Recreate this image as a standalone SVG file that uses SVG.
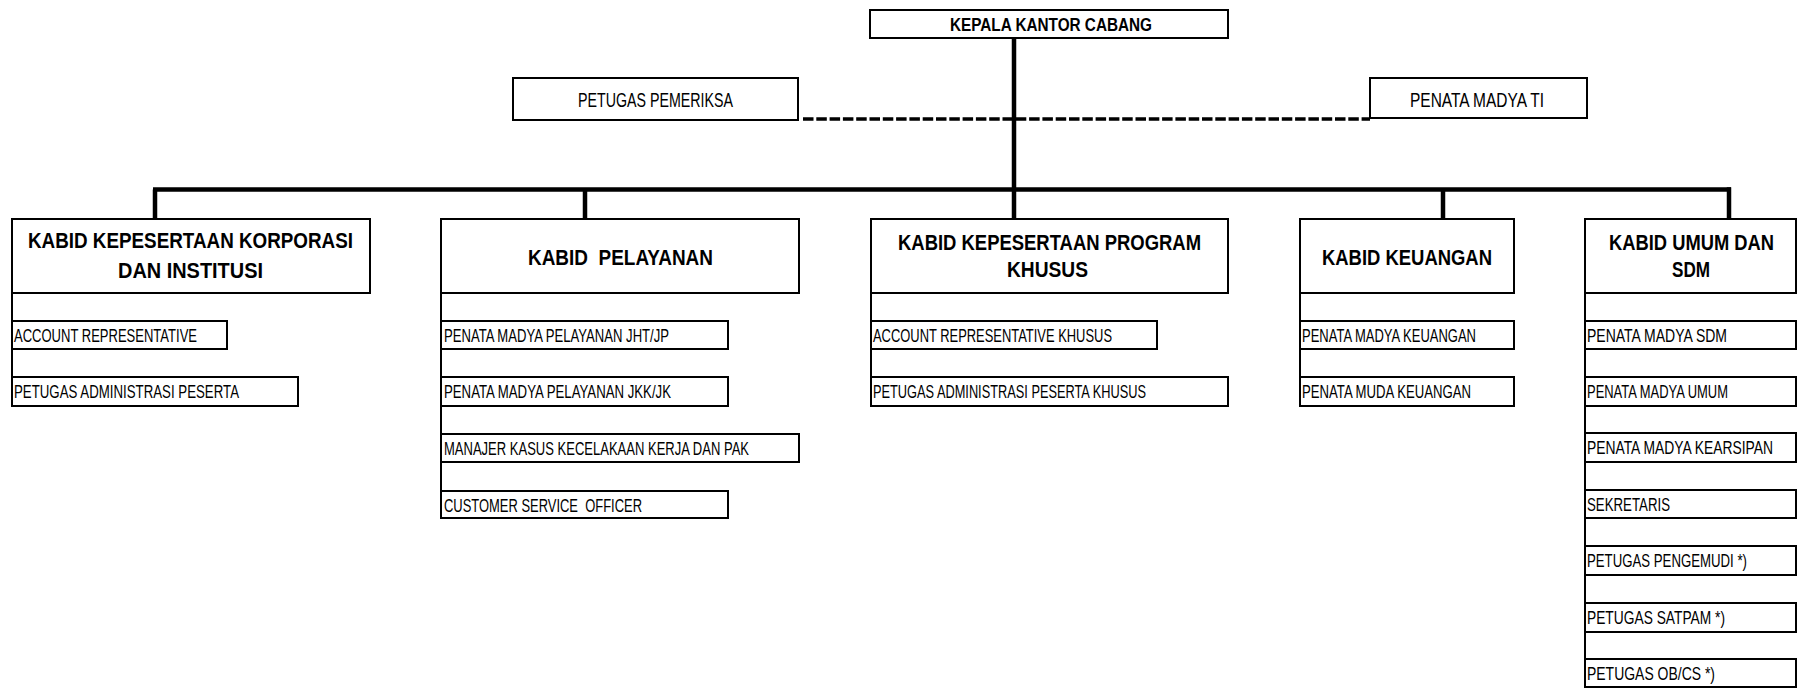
<svg xmlns="http://www.w3.org/2000/svg" width="1797" height="689" viewBox="0 0 1797 689">
<style>
.box{fill:#fff;stroke:#000;stroke-width:2}
.t{font-family:"Liberation Sans",Arial,sans-serif;font-size:18.5px;fill:#000;white-space:pre}
.h{font-family:"Liberation Sans",Arial,sans-serif;font-size:22px;font-weight:bold;fill:#000;white-space:pre}
.top{font-family:"Liberation Sans",Arial,sans-serif;font-size:19px;font-weight:bold;fill:#000}
.mid{font-family:"Liberation Sans",Arial,sans-serif;font-size:21px;fill:#000}
.ln{stroke:#000;stroke-width:4.5;fill:none}
.dash{stroke:#000;stroke-width:3.5;fill:none;stroke-dasharray:10.5 2.8}
.side{stroke:#000;stroke-width:2;fill:none}
</style>
<rect width="1797" height="689" fill="#fff"/>
<g id="connectors">
<line class="dash" x1="803" y1="119" x2="1370" y2="119"/>
<line class="ln" x1="1014" y1="38" x2="1014" y2="219"/>
<line class="ln" x1="153" y1="189.5" x2="1731" y2="189.5"/>
<line class="ln" x1="155" y1="189.5" x2="155" y2="219"/>
<line class="ln" x1="585" y1="189.5" x2="585" y2="219"/>
<line class="ln" x1="1443" y1="189.5" x2="1443" y2="219"/>
<line class="ln" x1="1729" y1="187.3" x2="1729" y2="219"/>
</g>
<g id="kepala">
<rect class="box" x="870" y="10" width="358" height="28"/>
<text class="top" x="950" y="31" textLength="202" lengthAdjust="spacingAndGlyphs">KEPALA KANTOR CABANG</text>
</g>
<g id="pemeriksa">
<rect class="box" x="513" y="78" width="285" height="42"/>
<text class="mid" x="578" y="107" textLength="155" lengthAdjust="spacingAndGlyphs">PETUGAS PEMERIKSA</text>
</g>
<g id="penata-ti">
<rect class="box" x="1370" y="78" width="217" height="40"/>
<text class="mid" x="1410" y="107" textLength="134" lengthAdjust="spacingAndGlyphs">PENATA MADYA TI</text>
</g>
<g id="kabid-korporasi">
<rect class="box" x="12" y="219" width="358" height="74"/>
<text class="h" x="28" y="248" textLength="325" lengthAdjust="spacingAndGlyphs">KABID KEPESERTAAN KORPORASI</text>
<text class="h" x="118" y="278" textLength="145" lengthAdjust="spacingAndGlyphs">DAN INSTITUSI</text>
<line class="side" x1="12" y1="293" x2="12" y2="406"/>
<rect class="box" x="12" y="321" width="215" height="28"/>
<text class="t" x="14" y="342" textLength="183" lengthAdjust="spacingAndGlyphs">ACCOUNT REPRESENTATIVE</text>
<rect class="box" x="12" y="377" width="286" height="29"/>
<text class="t" x="14" y="398" textLength="225" lengthAdjust="spacingAndGlyphs">PETUGAS ADMINISTRASI PESERTA</text>
</g>
<g id="kabid-pelayanan">
<rect class="box" x="441" y="219" width="358" height="74"/>
<text class="h" x="528" y="265" textLength="185" lengthAdjust="spacingAndGlyphs">KABID  PELAYANAN</text>
<line class="side" x1="441" y1="293" x2="441" y2="518"/>
<rect class="box" x="441" y="321" width="287" height="28"/>
<text class="t" x="444" y="342" textLength="225" lengthAdjust="spacingAndGlyphs">PENATA MADYA PELAYANAN JHT/JP</text>
<rect class="box" x="441" y="377" width="287" height="29"/>
<text class="t" x="444" y="398" textLength="227" lengthAdjust="spacingAndGlyphs">PENATA MADYA PELAYANAN JKK/JK</text>
<rect class="box" x="441" y="434" width="358" height="28"/>
<text class="t" x="444" y="455" textLength="305" lengthAdjust="spacingAndGlyphs">MANAJER KASUS KECELAKAAN KERJA DAN PAK</text>
<rect class="box" x="441" y="491" width="287" height="27"/>
<text class="t" x="444" y="512" textLength="198" lengthAdjust="spacingAndGlyphs">CUSTOMER SERVICE  OFFICER</text>
</g>
<g id="kabid-program-khusus">
<rect class="box" x="871" y="219" width="357" height="74"/>
<text class="h" x="898" y="250" textLength="303" lengthAdjust="spacingAndGlyphs">KABID KEPESERTAAN PROGRAM</text>
<text class="h" x="1007" y="277" textLength="81" lengthAdjust="spacingAndGlyphs">KHUSUS</text>
<line class="side" x1="871" y1="293" x2="871" y2="406"/>
<rect class="box" x="871" y="321" width="286" height="28"/>
<text class="t" x="873" y="342" textLength="239" lengthAdjust="spacingAndGlyphs">ACCOUNT REPRESENTATIVE KHUSUS</text>
<rect class="box" x="871" y="377" width="357" height="29"/>
<text class="t" x="873" y="398" textLength="273" lengthAdjust="spacingAndGlyphs">PETUGAS ADMINISTRASI PESERTA KHUSUS</text>
</g>
<g id="kabid-keuangan">
<rect class="box" x="1300" y="219" width="214" height="74"/>
<text class="h" x="1322" y="265" textLength="170" lengthAdjust="spacingAndGlyphs">KABID KEUANGAN</text>
<line class="side" x1="1300" y1="293" x2="1300" y2="406"/>
<rect class="box" x="1300" y="321" width="214" height="28"/>
<text class="t" x="1302" y="342" textLength="174" lengthAdjust="spacingAndGlyphs">PENATA MADYA KEUANGAN</text>
<rect class="box" x="1300" y="377" width="214" height="29"/>
<text class="t" x="1302" y="398" textLength="169" lengthAdjust="spacingAndGlyphs">PENATA MUDA KEUANGAN</text>
</g>
<g id="kabid-umum-sdm">
<rect class="box" x="1585" y="219" width="211" height="74"/>
<text class="h" x="1609" y="250" textLength="165" lengthAdjust="spacingAndGlyphs">KABID UMUM DAN</text>
<text class="h" x="1672" y="277" textLength="38" lengthAdjust="spacingAndGlyphs">SDM</text>
<line class="side" x1="1585" y1="293" x2="1585" y2="687"/>
<rect class="box" x="1585" y="321" width="211" height="28"/>
<text class="t" x="1587" y="342" textLength="140" lengthAdjust="spacingAndGlyphs">PENATA MADYA SDM</text>
<rect class="box" x="1585" y="377" width="211" height="29"/>
<text class="t" x="1587" y="398" textLength="141" lengthAdjust="spacingAndGlyphs">PENATA MADYA UMUM</text>
<rect class="box" x="1585" y="433" width="211" height="29"/>
<text class="t" x="1587" y="454" textLength="186" lengthAdjust="spacingAndGlyphs">PENATA MADYA KEARSIPAN</text>
<rect class="box" x="1585" y="490" width="211" height="28"/>
<text class="t" x="1587" y="511" textLength="83" lengthAdjust="spacingAndGlyphs">SEKRETARIS</text>
<rect class="box" x="1585" y="546" width="211" height="29"/>
<text class="t" x="1587" y="567" textLength="160" lengthAdjust="spacingAndGlyphs">PETUGAS PENGEMUDI *)</text>
<rect class="box" x="1585" y="603" width="211" height="29"/>
<text class="t" x="1587" y="624" textLength="138" lengthAdjust="spacingAndGlyphs">PETUGAS SATPAM *)</text>
<rect class="box" x="1585" y="659" width="211" height="28"/>
<text class="t" x="1587" y="680" textLength="128" lengthAdjust="spacingAndGlyphs">PETUGAS OB/CS *)</text>
</g>
</svg>
